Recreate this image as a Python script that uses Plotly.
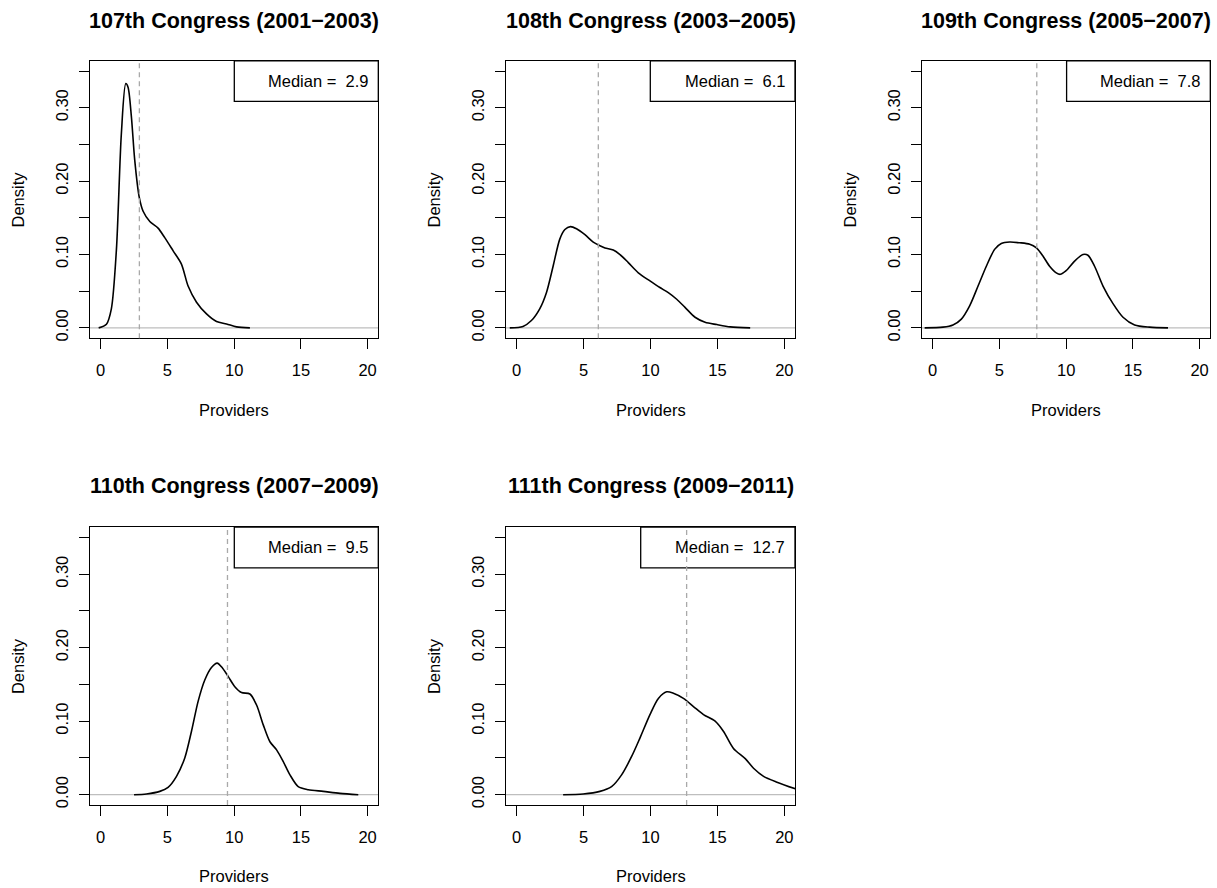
import plotly.graph_objects as go

# ---------------- data ----------------
titles = [
    "107th Congress (2001\u22122003)",
    "108th Congress (2003\u22122005)",
    "109th Congress (2005\u22122007)",
    "110th Congress (2007\u22122009)",
    "111th Congress (2009\u22122011)",
]
medians = [2.9, 6.1, 7.8, 9.5, 12.7]
median_labels = ["2.9", "6.1", "7.8", "9.5", "12.7"]

x107 = [-0.15, 0.43, 0.8, 1.18, 1.55, 1.88, 2.05, 2.3, 2.55, 2.88, 3.18, 3.68, 4.3, 4.8,
        5.43, 6.05, 6.55, 7.18, 7.93, 8.68, 9.43, 10.18, 11.18]
y107 = [0.0, 0.005, 0.026, 0.107, 0.265, 0.333, 0.328, 0.288, 0.229, 0.179, 0.159, 0.145,
        0.136, 0.123, 0.105, 0.087, 0.057, 0.035, 0.019, 0.0086, 0.0054, 0.0014, 0.0]

x108 = [-0.52, 0.47, 1.1, 1.72, 2.22, 2.72, 3.22, 3.6, 4.02, 4.47, 5.1, 5.72, 6.22, 6.6,
        7.22, 7.72, 8.34, 9.09, 9.96, 10.7, 11.33, 11.96, 12.58, 13.33, 14.08, 14.96,
        15.96, 17.45]
y108 = [0.0, 0.002, 0.01, 0.026, 0.048, 0.084, 0.121, 0.134, 0.138, 0.135, 0.127, 0.117,
        0.112, 0.109, 0.106, 0.100, 0.089, 0.075, 0.064, 0.055, 0.048, 0.039, 0.028,
        0.0145, 0.0077, 0.0045, 0.0014, 0.0]

x109 = [-0.6, 0.77, 1.52, 2.15, 2.77, 3.4, 4.02, 4.64, 5.14, 5.77, 6.52, 7.27, 7.77, 8.26,
        8.76, 9.26, 9.56, 10.0, 10.63, 11.26, 11.63, 12.13, 12.76, 13.51, 14.26, 15.13,
        16.25, 17.63]
y109 = [0.0, 0.001, 0.004, 0.012, 0.030, 0.057, 0.084, 0.107, 0.115, 0.117, 0.116, 0.114,
        0.109, 0.098, 0.084, 0.075, 0.073, 0.078, 0.091, 0.100, 0.099, 0.084, 0.057,
        0.033, 0.0145, 0.004, 0.001, 0.0]

x110 = [2.5, 3.43, 4.43, 5.05, 5.68, 6.3, 6.8, 7.3, 7.8, 8.3, 8.73, 9.05, 9.55, 10.05,
        10.55, 11.18, 11.68, 12.18, 12.68, 13.18, 13.68, 14.18, 14.8, 15.55, 16.68,
        17.93, 19.3]
y110 = [0.0, 0.001, 0.0045, 0.010, 0.025, 0.050, 0.086, 0.127, 0.156, 0.173, 0.179, 0.174,
        0.161, 0.147, 0.139, 0.137, 0.122, 0.095, 0.072, 0.061, 0.045, 0.027, 0.011,
        0.0068, 0.0045, 0.0018, 0.0]

x111 = [3.47, 4.97, 6.22, 7.09, 7.84, 8.59, 9.21, 9.96, 10.59, 11.21, 11.71, 12.46, 13.21,
        13.96, 14.83, 15.46, 16.2, 17.08, 17.7, 18.45, 19.45, 20.82]
y111 = [0.0, 0.001, 0.0045, 0.011, 0.027, 0.052, 0.077, 0.109, 0.131, 0.140, 0.138, 0.131,
        0.120, 0.109, 0.100, 0.086, 0.063, 0.049, 0.036, 0.025, 0.017, 0.008]

xs = [x107, x108, x109, x110, x111]
ys = [y107, y108, y109, y110, y111]

x_tickvals = [0, 5, 10, 15, 20]
y_tickvals = [0.0, 0.05, 0.10, 0.15, 0.20, 0.25, 0.30, 0.35]
y_ticktext = ["0.00", "", "0.10", "", "0.20", "", "0.30", ""]

# ---------------- layout / style ----------------
W, H = 1217, 888
col_px = [(90, 378.3), (506, 795), (922, 1210.3)]
row_px = [(61, 339.3), (529, 807.7)]
legend_w_px = [144, 144.7, 143.7, 144, 154.3]
legend_h_px = 40.7
FONT = "Liberation Sans, Arial, Helvetica, sans-serif"
BASE = 16.5
TITLE = 21.5

fig = go.Figure()
annotations = []
shapes = []

for i in range(5):
    r, c = divmod(i, 3)
    n = i + 1
    xa = "xaxis" if n == 1 else f"xaxis{n}"
    ya = "yaxis" if n == 1 else f"yaxis{n}"
    xr = "x" if n == 1 else f"x{n}"
    yr = "y" if n == 1 else f"y{n}"
    x0p, x1p = col_px[c]
    y0p, y1p = row_px[r]
    dom_x = [x0p / W, x1p / W]
    dom_y = [1 - y1p / H, 1 - y0p / H]
    pw = x1p - x0p
    ph = y1p - y0p

    fig.add_trace(go.Scatter(
        x=xs[i], y=ys[i], mode="lines",
        line=dict(color="black", width=1.6, shape="spline", smoothing=0.8),
        xaxis=xr, yaxis=yr, showlegend=False, hoverinfo="skip"))

    fig.layout[xa] = dict(
        domain=dom_x, anchor=yr, range=[-0.8, 20.8],
        tickvals=x_tickvals, ticks="outside", ticklen=10, tickwidth=1.2,
        tickcolor="black", showline=True, mirror=True, linecolor="black",
        linewidth=1.3, showgrid=False, zeroline=False,
        tickfont=dict(family=FONT, size=BASE, color="black"),
        ticklabelstandoff=7,
    )
    fig.layout[ya] = dict(
        domain=dom_y, anchor=xr, range=[-0.014, 0.364],
        tickvals=y_tickvals, ticktext=y_ticktext, ticks="outside", ticklen=10,
        tickwidth=1.2, tickcolor="black", tickangle=-90,
        showline=True, mirror=True, linecolor="black", linewidth=1.3,
        showgrid=False, zeroline=False,
        tickfont=dict(family=FONT, size=BASE, color="black"),
        ticklabelstandoff=4,
    )

    # zero line (gray)
    shapes.append(dict(type="line", xref=f"{xr} domain", yref=yr,
                       x0=0, x1=1, y0=0, y1=0,
                       line=dict(color="#BEBEBE", width=1.3), layer="below"))
    # legend box
    lw = legend_w_px[i] / pw
    lh = legend_h_px / ph
    shapes.append(dict(type="rect", xref=f"{xr} domain", yref=f"{yr} domain",
                       x0=1 - lw, x1=1, y0=1 - lh, y1=1,
                       line=dict(color="black", width=1.3), fillcolor="rgba(0,0,0,0)"))
    # median line
    shapes.append(dict(type="line", xref=xr, yref=f"{yr} domain",
                       x0=medians[i], x1=medians[i], y0=0, y1=1,
                       line=dict(color="#A9A9A9", width=1.3, dash="5px,4px")))

    annotations.append(dict(
        text=f"Median =  {median_labels[i]}", xref=f"{xr} domain", yref=f"{yr} domain",
        x=1, y=1 - lh / 2, xanchor="right", yanchor="middle", xshift=-8,
        showarrow=False, font=dict(family=FONT, size=BASE, color="black")))

    # title
    title_y = 20.7 if r == 0 else 488
    annotations.append(dict(
        text=f"<b>{titles[i]}</b>", xref="paper", yref="paper",
        x=(dom_x[0] + dom_x[1]) / 2, y=1 - title_y / H,
        xanchor="center", yanchor="middle", showarrow=False,
        font=dict(family=FONT, size=TITLE, color="black")))
    # x label
    xlab_y = 411 if r == 0 else 879
    annotations.append(dict(
        text="Providers", xref="paper", yref="paper",
        x=(dom_x[0] + dom_x[1]) / 2, y=1 - xlab_y / H,
        xanchor="center", yanchor="middle", showarrow=False,
        font=dict(family=FONT, size=BASE, color="black")))
    # y label
    annotations.append(dict(
        text="Density", xref="paper", yref="paper",
        x=(x0p - 72) / W, y=(dom_y[0] + dom_y[1]) / 2,
        xanchor="center", yanchor="middle", textangle=-90, showarrow=False,
        font=dict(family=FONT, size=BASE, color="black")))

fig.update_layout(
    width=W, height=H, margin=dict(l=0, r=0, t=0, b=0),
    paper_bgcolor="white", plot_bgcolor="white",
    annotations=annotations, shapes=shapes, showlegend=False,
)

fig.write_html("out.html")
